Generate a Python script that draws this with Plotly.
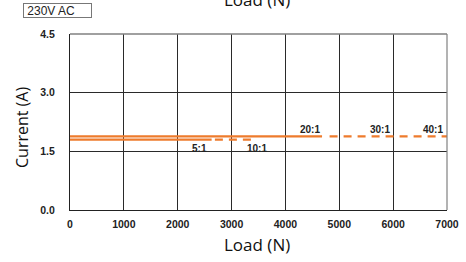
import plotly.graph_objects as go

# Data
low_solid_load = [0, 2630]
low_solid_current = [1.80, 1.80]
low_dash_load = [2690, 3450]
low_dash_current = [1.80, 1.80]
up_solid_load = [0, 4680]
up_solid_current = [1.88, 1.88]
up_dash_load = [4820, 7000]
up_dash_current = [1.88, 1.88]

ratio_labels = ["5:1", "10:1", "20:1", "30:1", "40:1"]
ratio_x = [2400, 3480, 4450, 5750, 6740]
ratio_y = [1.56, 1.56, 2.05, 2.05, 2.05]

x_ticks = [0, 1000, 2000, 3000, 4000, 5000, 6000, 7000]
y_ticks = [0.0, 1.5, 3.0, 4.5]
y_tick_text = ["0.0", "1.5", "3.0", "4.5"]

orange = "#EE7B2C"

L, R, T, B = 70, 19, 34, 52
W, H = 466, 262
PW, PH = W - L - R, H - T - B

fig = go.Figure()
fig.add_trace(go.Scatter(x=low_solid_load, y=low_solid_current, mode="lines",
                         line=dict(color=orange, width=2.2), showlegend=False))
fig.add_trace(go.Scatter(x=low_dash_load, y=low_dash_current, mode="lines",
                         line=dict(color=orange, width=2.2, dash="8px,6px"), showlegend=False))
fig.add_trace(go.Scatter(x=up_solid_load, y=up_solid_current, mode="lines",
                         line=dict(color=orange, width=2.2), showlegend=False))
fig.add_trace(go.Scatter(x=up_dash_load, y=up_dash_current, mode="lines",
                         line=dict(color=orange, width=2.2, dash="8px,6px"), showlegend=False))

for t, xv, yv in zip(ratio_labels, ratio_x, ratio_y):
    fig.add_annotation(x=xv, y=yv, text="<b>" + t + "</b>", showarrow=False,
                       font=dict(family="Liberation Sans", size=10, color="#222"),
                       xanchor="center", yanchor="middle")

tickfont = dict(family="Liberation Sans", size=10.5, color="#222", weight="bold")

fig.update_xaxes(range=[0, 7000], tickvals=x_ticks, ticktext=[str(v) for v in x_ticks],
                 showgrid=True, gridcolor="#2a2a2a", gridwidth=1,
                 showline=True, linecolor="#222", linewidth=1.3, zeroline=False,
                 tickfont=tickfont, ticks="", ticklabelstandoff=4, automargin=False)
fig.update_yaxes(range=[0, 4.5], tickvals=y_ticks, ticktext=y_tick_text,
                 showgrid=True, gridcolor="#2a2a2a", gridwidth=1,
                 showline=True, linecolor="#222", linewidth=1.3, zeroline=False,
                 tickfont=tickfont, ticks="", ticklabelstandoff=12, automargin=False)

# axis titles as annotations
fig.add_annotation(xref="paper", yref="paper", x=(257 - L) / PW, y=-(245 - (T + PH)) / PH,
                   text="Load (N)", showarrow=False, xanchor="center", yanchor="middle",
                   font=dict(family="Open Sans", size=17, color="#111"))
fig.add_annotation(xref="paper", yref="paper", x=(22 - L) / PW, y=(T + PH - 128) / PH,
                   text="Current (A)", showarrow=False, xanchor="center", yanchor="middle",
                   textangle=-90, font=dict(family="Open Sans", size=16, color="#111"))

# gray top/right frame
fig.add_shape(type="line", xref="paper", yref="paper", x0=0, x1=1, y0=1, y1=1,
              line=dict(color="#808080", width=1.5))
fig.add_shape(type="line", xref="paper", yref="paper", x0=1, x1=1, y0=0, y1=1,
              line=dict(color="#808080", width=1.2))

# cut-off title of a previous chart at the very top
fig.add_annotation(xref="paper", yref="paper", x=(257 - L) / PW, y=1.0 + (T - 13) / PH,
                   text="Load (N)", showarrow=False, xanchor="center", yanchor="bottom",
                   font=dict(family="Open Sans", size=17, color="#111"))
# "230V AC" box
fig.add_annotation(xref="paper", yref="paper", x=(23 - L) / PW, y=1.0 + (T - 3) / PH,
                   text="&nbsp;230V AC", showarrow=False, xanchor="left", yanchor="top",
                   width=67, height=13, align="left", valign="middle",
                   font=dict(family="Liberation Sans", size=12, color="#222"),
                   bordercolor="#777", borderwidth=1, borderpad=0, bgcolor="white")

fig.update_layout(width=W, height=H, margin=dict(l=L, r=R, t=T, b=B, autoexpand=False),
                  plot_bgcolor="white", paper_bgcolor="white")

fig.write_html("out.html", config={"displayModeBar": False},
               post_script="document.body.style.margin='0';document.body.style.overflow='hidden';")
